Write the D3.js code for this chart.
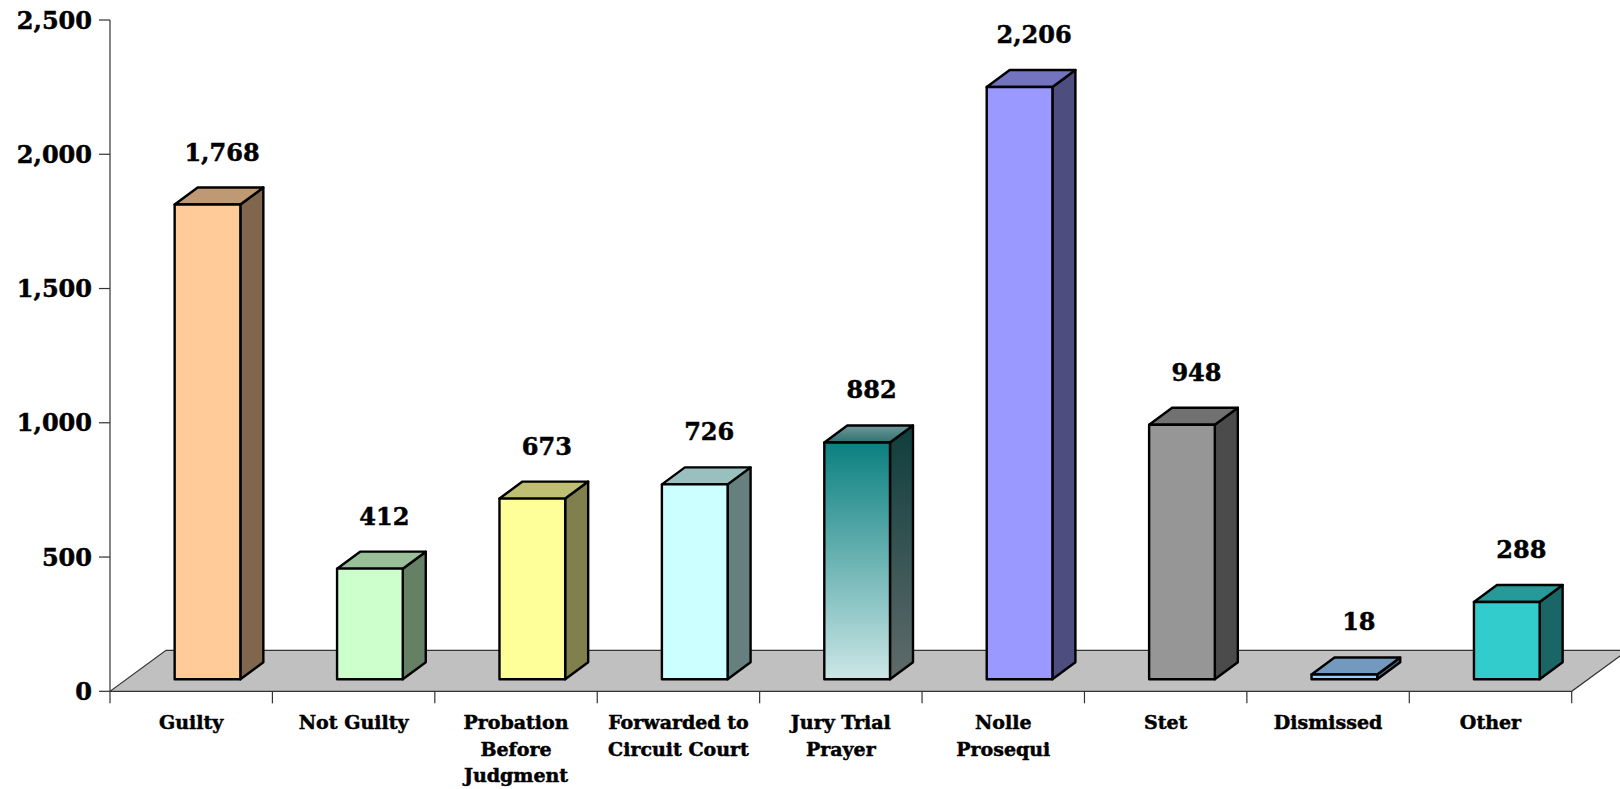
<!DOCTYPE html>
<html>
<head>
<meta charset="utf-8">
<script src="https://cdn.jsdelivr.net/npm/d3@7"></script>
<style>
  html, body { margin: 0; padding: 0; background: #fff; }
  svg { display: block; }
  text { font-family: "DejaVu Serif", "Liberation Serif", serif; font-weight: bold; fill: #000; stroke: #000; stroke-width: 0.5px; }
</style>
</head>
<body>
<svg id="chart" width="1620" height="789"></svg>
<script>
const categories = ["Guilty", "Not Guilty", "Probation Before Judgment", "Forwarded to Circuit Court", "Jury Trial Prayer", "Nolle Prosequi", "Stet", "Dismissed", "Other"];
const categoryLines = [["Guilty"], ["Not Guilty"], ["Probation", "Before", "Judgment"], ["Forwarded to", "Circuit Court"], ["Jury Trial", "Prayer"], ["Nolle", "Prosequi"], ["Stet"], ["Dismissed"], ["Other"]];
const values = [1768, 412, 673, 726, 882, 2206, 948, 18, 288];
const frontColors = ["#FFCC99", "#CCFFCC", "#FFFF99", "#CCFFFF", "#0B8080", "#9999FF", "#969696", "#99CCFF", "#33CCCC"];
const yTicks = [0, 500, 1000, 1500, 2000, 2500];

const svg = d3.select("#chart");
const left = 110, right = 1571.7, baseY = 691.3, topY = 20;
const DX = 56, DY = 41;            // floor depth offset
const frontDX = 16.3, frontDY = 12; // bar front face offset
const barDX = 23, barDY = 17;       // bar depth
const barFrac = 0.4045;

const x = d3.scaleBand().domain(categories).range([left, right]).paddingInner(0).paddingOuter(0);
const y = d3.scaleLinear().domain([0, 2500]).range([baseY, topY]);
const fmt = d3.format(",");

// gradients
const defs = svg.append("defs");
const gFront = defs.append("linearGradient").attr("id", "jtFront").attr("x1", 0).attr("y1", 0).attr("x2", 0).attr("y2", 1);
gFront.append("stop").attr("offset", "0%").attr("stop-color", "#0B8080");
gFront.append("stop").attr("offset", "100%").attr("stop-color", "#CCE6E6");
const gSide = defs.append("linearGradient").attr("id", "jtSide").attr("x1", 0).attr("y1", 0).attr("x2", 0).attr("y2", 1);
gSide.append("stop").attr("offset", "0%").attr("stop-color", "#0F3D3D");
gSide.append("stop").attr("offset", "100%").attr("stop-color", "#606B6B");
const gTop = defs.append("linearGradient").attr("id", "jtTop").attr("x1", 0).attr("y1", 0).attr("x2", 0).attr("y2", 1);
gTop.append("stop").attr("offset", "0%").attr("stop-color", "#6F9A9A");
gTop.append("stop").attr("offset", "100%").attr("stop-color", "#2F7070");

function shade(c, k) {
  const r = d3.rgb(c);
  return d3.rgb(r.r * k, r.g * k, r.b * k).formatHex();
}

// floor
svg.append("path")
  .attr("d", `M${left},${baseY} L${right},${baseY} L${right + DX},${baseY - DY} L${left + DX},${baseY - DY} Z`)
  .attr("fill", "#C0C0C0").attr("stroke", "#333").attr("stroke-width", 1.2);

// y axis
svg.append("line").attr("x1", left).attr("x2", left).attr("y1", y(2500)).attr("y2", baseY)
  .attr("stroke", "#333").attr("stroke-width", 1.2);
const yt = svg.append("g");
yTicks.forEach(t => {
  yt.append("line").attr("x1", left - 11).attr("x2", left).attr("y1", y(t)).attr("y2", y(t))
    .attr("stroke", "#333").attr("stroke-width", 1.2);
  yt.append("text").attr("x", left - 18).attr("y", y(t)).attr("dy", "0.36em")
    .attr("text-anchor", "end").attr("font-size", 24).text(fmt(t));
});

// x ticks
const bw = x.bandwidth();
for (let i = 0; i <= categories.length; i++) {
  const xx = left + i * bw;
  svg.append("line").attr("x1", xx).attr("x2", xx).attr("y1", baseY).attr("y2", baseY + 12)
    .attr("stroke", "#333").attr("stroke-width", 1.2);
}

// bars
categories.forEach((c, i) => {
  const v = values[i];
  const w = bw * barFrac;
  const x0 = x(c) + (bw - w) / 2 + frontDX;
  const x1 = x0 + w;
  const yb = baseY - frontDY;
  const yt0 = yb - (baseY - y(v));
  const isGrad = i === 4;
  const front = isGrad ? "url(#jtFront)" : frontColors[i];
  const side = isGrad ? "url(#jtSide)" : shade(frontColors[i], 0.5);
  const top = isGrad ? "url(#jtTop)" : shade(frontColors[i], 0.75);
  const g = svg.append("g").attr("stroke", "#000").attr("stroke-width", 2.4).attr("stroke-linejoin", "round");
  g.append("path").attr("d", `M${x1},${yb} L${x1 + barDX},${yb - barDY} L${x1 + barDX},${yt0 - barDY} L${x1},${yt0} Z`).attr("fill", side);
  g.append("path").attr("d", `M${x0},${yt0} L${x1},${yt0} L${x1 + barDX},${yt0 - barDY} L${x0 + barDX},${yt0 - barDY} Z`).attr("fill", top);
  g.append("path").attr("d", `M${x0},${yb} L${x1},${yb} L${x1},${yt0} L${x0},${yt0} Z`).attr("fill", front);
  // value label
  svg.append("text").attr("x", (x0 + x1) / 2 + barDX / 2 + 3).attr("y", yt0 - barDY - 27)
    .attr("text-anchor", "middle").attr("font-size", 24).text(fmt(v));
});

// category labels
categories.forEach((c, i) => {
  const t = svg.append("text").attr("text-anchor", "middle").attr("font-size", 19);
  categoryLines[i].forEach((line, j) => {
    t.append("tspan").attr("x", x(c) + bw / 2).attr("y", 729 + j * 26.5).text(line);
  });
});
</script>
</body>
</html>
